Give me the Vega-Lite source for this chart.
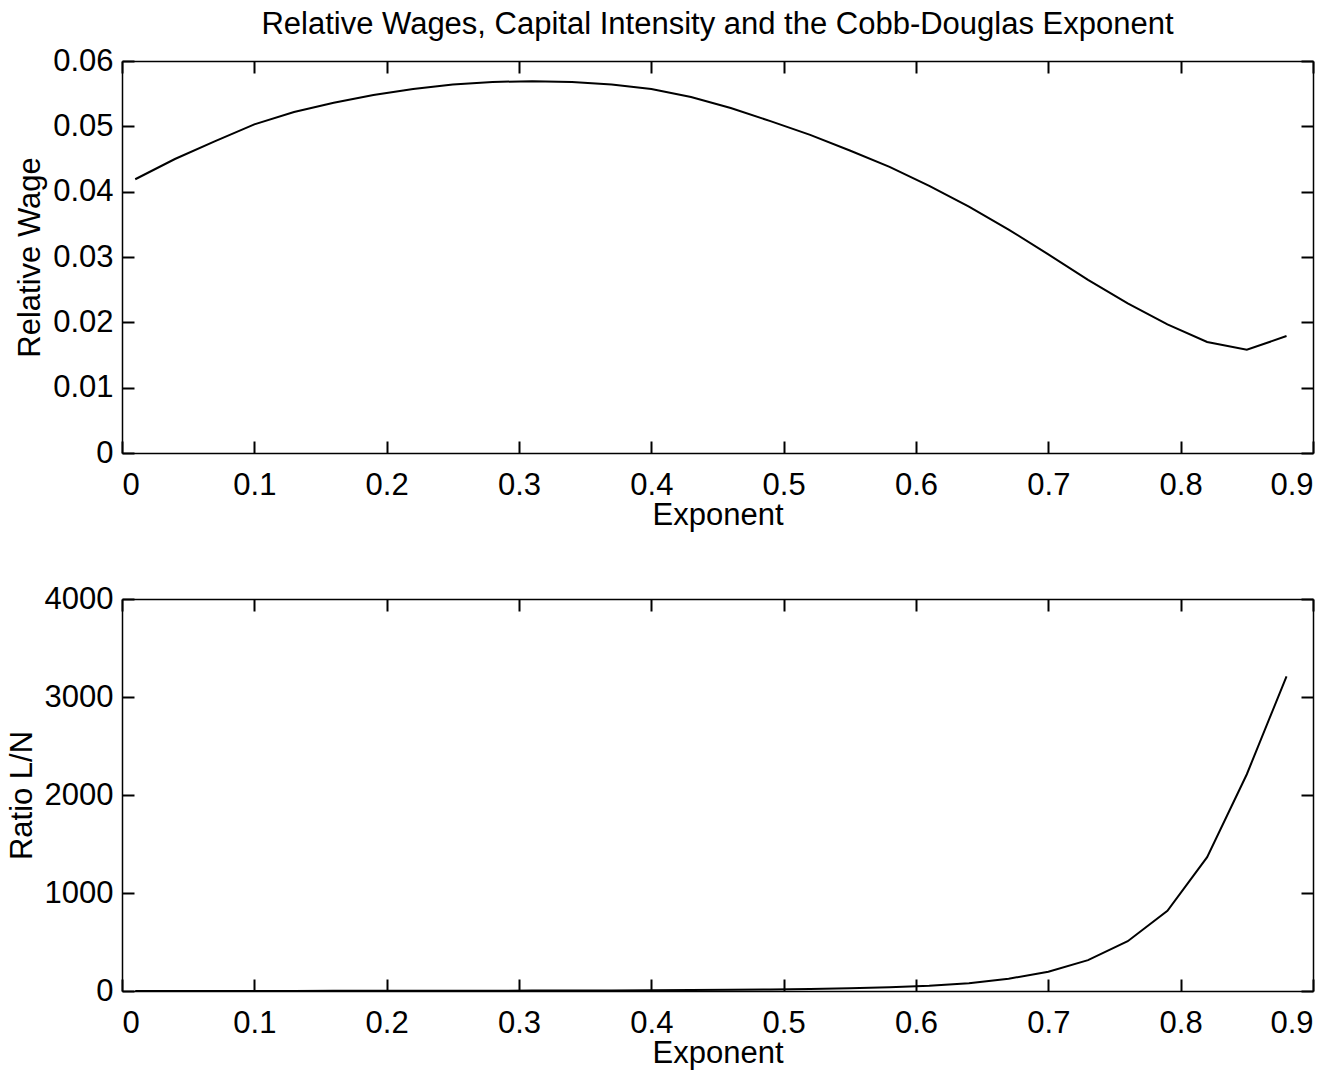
{
  "$schema": "https://vega.github.io/schema/vega-lite/v6.json",
  "background": "white",
  "padding": {"left": 6, "top": 9, "right": 10, "bottom": 5},
  "datasets": {
    "wage": [
      {"exponent": 0.01, "wage": 0.0419},
      {"exponent": 0.04, "wage": 0.0450},
      {"exponent": 0.07, "wage": 0.0477},
      {"exponent": 0.10, "wage": 0.0503},
      {"exponent": 0.13, "wage": 0.0522},
      {"exponent": 0.16, "wage": 0.0536},
      {"exponent": 0.19, "wage": 0.0548},
      {"exponent": 0.22, "wage": 0.0557},
      {"exponent": 0.25, "wage": 0.0564},
      {"exponent": 0.28, "wage": 0.0568},
      {"exponent": 0.31, "wage": 0.0569},
      {"exponent": 0.34, "wage": 0.0568},
      {"exponent": 0.37, "wage": 0.0564},
      {"exponent": 0.40, "wage": 0.0557},
      {"exponent": 0.43, "wage": 0.0545},
      {"exponent": 0.46, "wage": 0.0528},
      {"exponent": 0.49, "wage": 0.0508},
      {"exponent": 0.52, "wage": 0.0487},
      {"exponent": 0.55, "wage": 0.0463},
      {"exponent": 0.58, "wage": 0.0438},
      {"exponent": 0.61, "wage": 0.0409},
      {"exponent": 0.64, "wage": 0.0377},
      {"exponent": 0.67, "wage": 0.0342},
      {"exponent": 0.70, "wage": 0.0304},
      {"exponent": 0.73, "wage": 0.0265},
      {"exponent": 0.76, "wage": 0.0229},
      {"exponent": 0.79, "wage": 0.0197},
      {"exponent": 0.82, "wage": 0.0170},
      {"exponent": 0.85, "wage": 0.0158},
      {"exponent": 0.88, "wage": 0.0179}
    ],
    "ratio": [
      {"exponent": 0.01, "ratio": 0.5},
      {"exponent": 0.04, "ratio": 0.6},
      {"exponent": 0.07, "ratio": 0.8},
      {"exponent": 0.10, "ratio": 1.0},
      {"exponent": 0.13, "ratio": 1.2},
      {"exponent": 0.16, "ratio": 1.5},
      {"exponent": 0.19, "ratio": 1.8},
      {"exponent": 0.22, "ratio": 2.2},
      {"exponent": 0.25, "ratio": 2.7},
      {"exponent": 0.28, "ratio": 3.3},
      {"exponent": 0.31, "ratio": 4.0},
      {"exponent": 0.34, "ratio": 5.0},
      {"exponent": 0.37, "ratio": 6.2},
      {"exponent": 0.40, "ratio": 7.8},
      {"exponent": 0.43, "ratio": 9.8},
      {"exponent": 0.46, "ratio": 12.5},
      {"exponent": 0.49, "ratio": 16},
      {"exponent": 0.52, "ratio": 21},
      {"exponent": 0.55, "ratio": 28},
      {"exponent": 0.58, "ratio": 38},
      {"exponent": 0.61, "ratio": 53},
      {"exponent": 0.64, "ratio": 78},
      {"exponent": 0.67, "ratio": 125},
      {"exponent": 0.70, "ratio": 197},
      {"exponent": 0.73, "ratio": 315},
      {"exponent": 0.76, "ratio": 508},
      {"exponent": 0.79, "ratio": 818},
      {"exponent": 0.82, "ratio": 1366},
      {"exponent": 0.85, "ratio": 2212},
      {"exponent": 0.88, "ratio": 3211}
    ]
  },
  "spacing": 53,
  "vconcat": [
    {
      "width": 1191,
      "height": 392,
      "title": {"text": "Relative Wages, Capital Intensity and the Cobb-Douglas Exponent", "anchor": "middle", "frame": "group", "fontSize": 31, "font": "Liberation Sans", "fontWeight": "normal", "color": "black", "baseline": "alphabetic", "offset": -20},
      "data": {"name": "wage"},
      "layer": [
        {
          "mark": {"type": "line", "color": "black", "strokeWidth": 2},
          "encoding": {
            "x": {"field": "exponent", "type": "quantitative", "scale": {"domain": [0, 0.9], "nice": false, "zero": false},
                  "axis": {"orient": "bottom", "title": "Exponent", "values": [0, 0.1, 0.2, 0.3, 0.4, 0.5, 0.6, 0.7, 0.8, 0.9], "format": "~g", "labelPadding": 29, "titlePadding": 0}},
            "y": {"field": "wage", "type": "quantitative", "scale": {"domain": [0, 0.06], "nice": false},
                  "axis": {"orient": "left", "title": "Relative Wage", "values": [0, 0.01, 0.02, 0.03, 0.04, 0.05, 0.06], "format": "~g", "labelPadding": 21, "titlePadding": 6}}
          }
        },
        {
          "mark": {"type": "line", "opacity": 0},
          "encoding": {
            "x": {"field": "exponent", "type": "quantitative", "axis": {"orient": "top", "title": null, "labels": false, "values": [0, 0.1, 0.2, 0.3, 0.4, 0.5, 0.6, 0.7, 0.8, 0.9]}},
            "y": {"field": "wage", "type": "quantitative", "axis": {"orient": "right", "title": null, "labels": false, "values": [0, 0.01, 0.02, 0.03, 0.04, 0.05, 0.06]}}
          }
        }
      ],
      "resolve": {"axis": {"x": "independent", "y": "independent"}}
    },
    {
      "width": 1191,
      "height": 392,
      "data": {"name": "ratio"},
      "layer": [
        {
          "mark": {"type": "line", "color": "black", "strokeWidth": 2},
          "encoding": {
            "x": {"field": "exponent", "type": "quantitative", "scale": {"domain": [0, 0.9], "nice": false, "zero": false},
                  "axis": {"orient": "bottom", "title": "Exponent", "values": [0, 0.1, 0.2, 0.3, 0.4, 0.5, 0.6, 0.7, 0.8, 0.9], "format": "~g", "labelPadding": 29, "titlePadding": 0}},
            "y": {"field": "ratio", "type": "quantitative", "scale": {"domain": [0, 4000], "nice": false},
                  "axis": {"orient": "left", "title": "Ratio L/N", "values": [0, 1000, 2000, 3000, 4000], "format": "d", "labelPadding": 21, "titlePadding": 6}}
          }
        },
        {
          "mark": {"type": "line", "opacity": 0},
          "encoding": {
            "x": {"field": "exponent", "type": "quantitative", "axis": {"orient": "top", "title": null, "labels": false, "values": [0, 0.1, 0.2, 0.3, 0.4, 0.5, 0.6, 0.7, 0.8, 0.9]}},
            "y": {"field": "ratio", "type": "quantitative", "axis": {"orient": "right", "title": null, "labels": false, "values": [0, 1000, 2000, 3000, 4000]}}
          }
        }
      ],
      "resolve": {"axis": {"x": "independent", "y": "independent"}}
    }
  ],
  "config": {
    "view": {"stroke": null},
    "font": "Liberation Sans",
    "axis": {
      "grid": false,
      "domainColor": "black",
      "domainWidth": 1.5,
      "tickColor": "black",
      "tickWidth": 2,
      "tickSize": -12,
      "labelFont": "Liberation Sans",
      "labelFontSize": 31,
      "labelColor": "black",
      "titleFont": "Liberation Sans",
      "titleFontSize": 31,
      "titleFontWeight": "normal",
      "titleColor": "black"
    }
  }
}
